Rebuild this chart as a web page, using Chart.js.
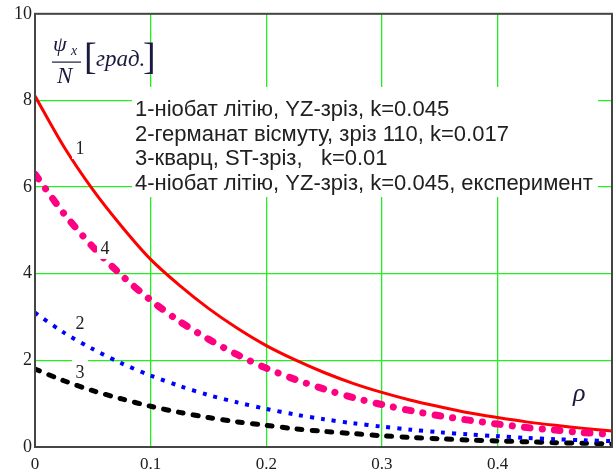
<!DOCTYPE html>
<html>
<head>
<meta charset="utf-8">
<script src="https://cdn.jsdelivr.net/npm/chart.js@4"></script>
<style>
  html, body { margin: 0; padding: 0; background: #fff; }
  #wrap { width: 614px; height: 473px; }
</style>
</head>
<body>
<div id="wrap"><canvas id="chart" width="614" height="473"></canvas></div>
<script>
// values
const rho = [0, 0.025, 0.05, 0.075, 0.1, 0.125, 0.15, 0.175, 0.2, 0.225, 0.25,
             0.275, 0.3, 0.325, 0.35, 0.375, 0.4, 0.425, 0.45, 0.475, 0.499];
const curve1 = [8.10, 6.93, 5.94, 5.09, 4.33, 3.73, 3.20, 2.74, 2.34, 2.01, 1.72,
                1.47, 1.26, 1.08, 0.93, 0.79, 0.68, 0.58, 0.50, 0.43, 0.37];
const curve2 = [3.10, 2.64, 2.26, 1.93, 1.65, 1.41, 1.20, 1.03, 0.88, 0.75, 0.64,
                0.55, 0.47, 0.40, 0.34, 0.29, 0.25, 0.21, 0.18, 0.155, 0.135];
const curve3 = [1.80, 1.53, 1.30, 1.11, 0.94, 0.80, 0.68, 0.58, 0.50, 0.42, 0.36,
                0.31, 0.26, 0.22, 0.19, 0.16, 0.14, 0.12, 0.10, 0.085, 0.07];
const curve4 = [6.30, 5.39, 4.62, 3.96, 3.39, 2.90, 2.49, 2.13, 1.82, 1.56, 1.34,
                1.14, 0.98, 0.84, 0.72, 0.62, 0.53, 0.45, 0.39, 0.33, 0.29];

const xTicks = [0, 0.1, 0.2, 0.3, 0.4];
const yTicks = [0, 2, 4, 6, 8, 10];

const legendLines = [
  '1-ніобат літію, YZ-зріз, k=0.045',
  '2-германат вісмуту, зріз 110, k=0.017',
  '3-кварц, ST-зріз,   k=0.01',
  '4-ніобат літію, YZ-зріз, k=0.045, експеримент'
];
const curveTags = ['1', '2', '3', '4'];

const toPoints = ys => rho.map((x, i) => ({ x: x, y: ys[i] }));

const GRID = '#22ee22';
const TEXT = '#202020';

const overlay = {
  id: 'overlay',
  beforeDraw(chart) {
    const ctx = chart.ctx;
    ctx.save();
    ctx.fillStyle = '#fff';
    ctx.fillRect(0, 0, chart.width, chart.height);
    ctx.restore();
  },
  afterDatasetsDraw(chart) {
    const ctx = chart.ctx;
    const a = chart.chartArea;
    ctx.save();

    // legend text on a white box
    ctx.fillStyle = '#fff';
    ctx.fillRect(132, 87, 466, 110);
    ctx.font = '18px "Liberation Sans"';
    const size = 18 * 458 / ctx.measureText(legendLines[3]).width;
    ctx.font = size.toFixed(2) + 'px "Liberation Sans"';
    ctx.fillStyle = TEXT;
    ctx.textBaseline = 'alphabetic';
    ctx.textAlign = 'left';
    legendLines.forEach((t, i) => ctx.fillText(t, 135, 116 + i * 24.6));

    // curve numbers
    const tagPos = [[80, 154], [80, 329], [80, 378], [105, 254]];
    ctx.font = '18px "Liberation Serif"';
    ctx.textAlign = 'center';
    curveTags.forEach((t, i) => {
      const [x, y] = tagPos[i];
      ctx.fillStyle = '#fff';
      ctx.fillRect(x - 8, y - 18, 16, 23);
      ctx.fillStyle = TEXT;
      ctx.fillText(t, x, y);
    });

    // axis titles
    ctx.textAlign = 'left';
    ctx.fillStyle = '#1a1a40';
    ctx.font = 'italic 22px "Liberation Serif"';
    ctx.fillText('ψ', 53, 51);
    ctx.font = 'italic 14px "Liberation Serif"';
    ctx.fillText('x', 71, 55);
    ctx.fillRect(52, 61.5, 29, 1.2);
    ctx.font = 'italic 23px "Liberation Serif"';
    ctx.fillText('N', 57, 83);
    ctx.font = '36px "DejaVu Serif"';
    ctx.font = '38px "Liberation Serif"';
    ctx.fillText('[', 84, 69);
    ctx.fillText(']', 143, 69);
    ctx.font = 'italic 23px "Liberation Serif"';
    ctx.fillText('град.', 96, 66);
    ctx.font = 'italic 26px "Liberation Serif"';
    ctx.fillText('ρ', 573, 401);

    // frame
    ctx.strokeStyle = '#454545';
    ctx.lineWidth = 2;
    ctx.strokeRect(a.left, a.top, a.right - a.left, a.bottom - a.top);
    ctx.restore();
  }
};

new Chart(document.getElementById('chart'), {
  type: 'line',
  data: {
    datasets: [
      {
        label: '4',
        data: toPoints(curve4),
        borderColor: '#ff0080',
        borderWidth: 7,
        borderDash: [6, 12, 0.1, 12],
        borderCapStyle: 'round',
        pointRadius: 0,
        tension: 0.3
      },
      {
        label: '1',
        data: toPoints(curve1),
        borderColor: '#ff0000',
        borderWidth: 3,
        pointRadius: 0,
        tension: 0.3
      },
      {
        label: '2',
        data: toPoints(curve2),
        borderColor: '#0000ff',
        borderWidth: 4,
        borderDash: [4, 7],
        borderCapStyle: 'butt',
        pointRadius: 0,
        tension: 0.3
      },
      {
        label: '3',
        data: toPoints(curve3),
        borderColor: '#000000',
        borderWidth: 5,
        borderDash: [5, 10],
        borderCapStyle: 'round',
        pointRadius: 0,
        tension: 0.3
      }
    ]
  },
  options: {
    responsive: false,
    animation: false,
    layout: { padding: { top: 13, right: 2, left: 0, bottom: 0 } },
    plugins: { legend: { display: false }, tooltip: { enabled: false } },
    scales: {
      x: {
        type: 'linear',
        min: 0,
        max: 0.499,
        afterBuildTicks: s => { s.ticks = xTicks.map(v => ({ value: v })); },
        afterFit: s => { s.height = 26; },
        grid: { color: GRID, lineWidth: 1.3, drawTicks: false },
        border: { display: false },
        ticks: {
          padding: 7,
          autoSkip: false,
          maxRotation: 0,
          color: TEXT,
          font: { family: 'Liberation Serif', size: 17 },
          callback: v => String(v)
        }
      },
      y: {
        min: 0,
        max: 10,
        afterBuildTicks: s => { s.ticks = yTicks.map(v => ({ value: v })); },
        afterFit: s => { s.width = 35; },
        grid: { color: GRID, lineWidth: 1.3, drawTicks: false },
        border: { display: false },
        ticks: {
          padding: 3,
          color: TEXT,
          font: { family: 'Liberation Serif', size: 18 },
          callback: v => String(v)
        }
      }
    }
  },
  plugins: [overlay]
});
</script>
</body>
</html>
